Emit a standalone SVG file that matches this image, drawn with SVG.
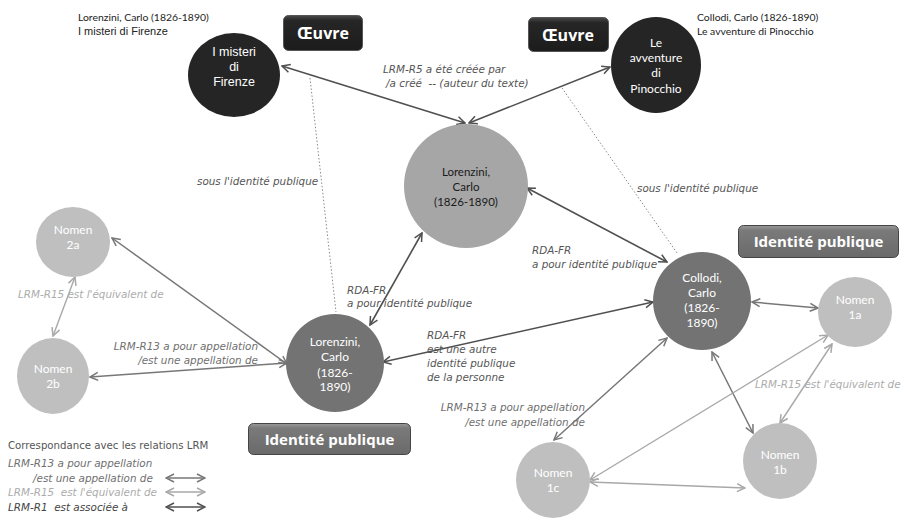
<svg xmlns="http://www.w3.org/2000/svg" width="901" height="525" viewBox="0 0 901 525">
  <defs>
    <style>
      .lbl { font-family: "DejaVu Sans", "Open Sans", sans-serif; font-style: italic; font-size: 10.4px; white-space: pre; }
      .dk { fill: #555555; }
      .md { fill: #6f6f6f; }
      .lt { fill: #acacac; }
      .node-w { font-family: Lato, "Open Sans", sans-serif; font-size: 12px; fill: #ffffff; text-anchor: middle; }
      .node-b { font-family: Lato, "Open Sans", sans-serif; font-size: 11.5px; fill: #1a1a1a; text-anchor: middle; }
      .arial-w { font-family: "Liberation Sans", Arial, sans-serif; font-size: 12.5px; fill: #ffffff; text-anchor: middle; }
      .cap { font-family: Lato, "Open Sans", sans-serif; font-size: 10.4px; fill: #222222; }
      .cap-a { font-family: "Liberation Sans", Arial, sans-serif; font-size: 11px; fill: #222222; }
      .btn { font-family: "Open Sans", "DejaVu Sans", sans-serif; font-weight: bold; fill: #ffffff; text-anchor: middle; }
      .c-dark { stroke: #505050; stroke-width: 1.6; fill: none; marker-start: url(#aDark); marker-end: url(#aDark); }
      .c-mid { stroke: #777777; stroke-width: 1.5; fill: none; marker-start: url(#aMid); marker-end: url(#aMid); }
      .c-light { stroke: #a8a8a8; stroke-width: 1.4; fill: none; marker-start: url(#aLight); marker-end: url(#aLight); }
      .c-dot { stroke: #8a8a8a; stroke-width: 1; stroke-dasharray: 1.5 2; fill: none; }
      .heading { font-family: "DejaVu Sans", "Open Sans", sans-serif; font-size: 10.2px; fill: #555555; }
    </style>
    <marker id="aDark" viewBox="0 0 10 10" refX="9" refY="5" markerWidth="10" markerHeight="10" markerUnits="userSpaceOnUse" orient="auto-start-reverse">
      <path d="M1,1 L9,5 L1,9" fill="none" stroke="#505050" stroke-width="1.5"/>
    </marker>
    <marker id="aMid" viewBox="0 0 10 10" refX="9" refY="5" markerWidth="10" markerHeight="10" markerUnits="userSpaceOnUse" orient="auto-start-reverse">
      <path d="M1,1 L9,5 L1,9" fill="none" stroke="#777777" stroke-width="1.5"/>
    </marker>
    <marker id="aLight" viewBox="0 0 10 10" refX="9" refY="5" markerWidth="10" markerHeight="10" markerUnits="userSpaceOnUse" orient="auto-start-reverse">
      <path d="M1,1 L9,5 L1,9" fill="none" stroke="#a8a8a8" stroke-width="1.5"/>
    </marker>
    <linearGradient id="gBlack" x1="0" y1="0" x2="0" y2="1">
      <stop offset="0" stop-color="#4a4a4a"/>
      <stop offset="0.15" stop-color="#262626"/>
      <stop offset="1" stop-color="#1c1c1c"/>
    </linearGradient>
    <linearGradient id="gGray" x1="0" y1="0" x2="0" y2="1">
      <stop offset="0" stop-color="#9a9a9a"/>
      <stop offset="0.15" stop-color="#7a7a7a"/>
      <stop offset="1" stop-color="#6a6a6a"/>
    </linearGradient>
  </defs>

  <rect width="901" height="525" fill="#ffffff"/>

  <!-- connectors -->
  <g id="connectors">
    <line class="c-dot" x1="310" y1="78" x2="336" y2="312"/>
    <line class="c-dot" x1="562" y1="88" x2="677" y2="253"/>
    <line class="c-dark" x1="282" y1="66" x2="465" y2="123"/>
    <line class="c-dark" x1="610" y1="67" x2="469" y2="123"/>
    <line class="c-dark" x1="527" y1="188" x2="667" y2="262"/>
    <line class="c-dark" x1="370" y1="325" x2="422" y2="233"/>
    <line class="c-dark" x1="383" y1="362" x2="653" y2="302"/>
    <line class="c-mid" x1="112" y1="238" x2="287" y2="364"/>
    <line class="c-mid" x1="90" y1="377" x2="287" y2="363"/>
    <line class="c-light" x1="75" y1="277" x2="53" y2="336"/>
    <line class="c-mid" x1="752" y1="302" x2="818" y2="308"/>
    <line class="c-mid" x1="712" y1="352" x2="753" y2="433"/>
    <line class="c-mid" x1="667" y1="338" x2="554" y2="440"/>
    <line class="c-light" x1="832" y1="344" x2="780" y2="423"/>
    <line class="c-light" x1="828" y1="335" x2="590" y2="480"/>
    <line class="c-light" x1="590" y1="482" x2="745" y2="488"/>
  </g>

  <!-- connector labels -->
  <g id="labels">
    <text class="lbl dk" x="383" y="73">LRM-R5 a été créée par</text>
    <text class="lbl dk" x="386" y="87">/a créé  -- (auteur du texte)</text>
    <text class="lbl dk" x="197" y="185">sous l'identité publique</text>
    <text class="lbl dk" x="637" y="192">sous l'identité publique</text>
    <text class="lbl dk" x="532" y="254">RDA-FR</text>
    <text class="lbl dk" x="532" y="268">a pour identité publique</text>
    <text class="lbl dk" x="347" y="294">RDA-FR</text>
    <text class="lbl dk" x="347" y="307">a pour identité publique</text>
    <text class="lbl dk" x="427" y="339">RDA-FR</text>
    <text class="lbl dk" x="427" y="353">est une autre</text>
    <text class="lbl dk" x="427" y="367">identité publique</text>
    <text class="lbl dk" x="427" y="381">de la personne</text>
    <text class="lbl md" x="258" y="350" text-anchor="end">LRM-R13 a pour appellation</text>
    <text class="lbl md" x="258" y="364" text-anchor="end">/est une appellation de</text>
    <text class="lbl lt" x="18" y="298">LRM-R15 est l'équivalent de</text>
    <text class="lbl lt" x="755" y="388">LRM-R15 est l'équivalent de</text>
    <text class="lbl md" x="585" y="411" text-anchor="end">LRM-R13 a pour appellation</text>
    <text class="lbl md" x="585" y="426" text-anchor="end">/est une appellation de</text>
  </g>

  <!-- works -->
  <g id="work-misteri">
    <ellipse cx="234" cy="75" rx="46" ry="42" fill="#252525"/>
    <text class="arial-w" x="234" y="56">I misteri</text>
    <text class="arial-w" x="234" y="71">di</text>
    <text class="arial-w" x="234" y="86">Firenze</text>
  </g>
  <g id="work-pinocchio">
    <ellipse cx="656" cy="65" rx="45" ry="48" fill="#252525"/>
    <text class="node-w" x="656" y="47">Le</text>
    <text class="node-w" x="656" y="62">avventure</text>
    <text class="node-w" x="656" y="77">di</text>
    <text class="node-w" x="656" y="93">Pinocchio</text>
  </g>

  <!-- captions -->
  <g id="caption-misteri">
    <text class="cap" x="78" y="21">Lorenzini, Carlo (1826-1890)</text>
    <text class="cap-a" x="78" y="35">I misteri di Firenze</text>
  </g>
  <g id="caption-pinocchio">
    <text class="cap" x="697" y="21">Collodi, Carlo (1826-1890)</text>
    <text class="cap" x="697" y="35">Le avventure di Pinocchio</text>
  </g>

  <!-- type badges -->
  <g id="badge-oeuvre-1">
    <rect x="283.5" y="15.5" width="79" height="35" rx="5" fill="url(#gBlack)" stroke="#555555" stroke-width="1"/>
    <text class="btn" x="323" y="39" font-size="16">Œuvre</text>
  </g>
  <g id="badge-oeuvre-2">
    <rect x="528.5" y="17.5" width="80" height="34" rx="5" fill="url(#gBlack)" stroke="#555555" stroke-width="1"/>
    <text class="btn" x="568" y="41" font-size="16">Œuvre</text>
  </g>
  <g id="badge-identite-1">
    <rect x="248.5" y="423.5" width="162" height="31" rx="5" fill="url(#gGray)" stroke="#444444" stroke-width="1"/>
    <text class="btn" x="329.5" y="445" font-size="15">Identité publique</text>
  </g>
  <g id="badge-identite-2">
    <rect x="738.5" y="225.5" width="160" height="32" rx="5" fill="url(#gGray)" stroke="#444444" stroke-width="1"/>
    <text class="btn" x="818.5" y="247" font-size="15">Identité publique</text>
  </g>

  <!-- persons / public identities -->
  <g id="person-lorenzini">
    <circle cx="466" cy="186" r="62" fill="#a6a6a6"/>
    <text class="node-b" x="466" y="176">Lorenzini,</text>
    <text class="node-b" x="466" y="191">Carlo</text>
    <text class="node-b" x="466" y="206">(1826-1890)</text>
  </g>
  <g id="identity-lorenzini">
    <circle cx="335" cy="363" r="49" fill="#737373"/>
    <text class="node-w" x="335" y="346">Lorenzini,</text>
    <text class="node-w" x="335" y="361">Carlo</text>
    <text class="node-w" x="335" y="377">(1826-</text>
    <text class="node-w" x="335" y="391">1890)</text>
  </g>
  <g id="identity-collodi">
    <circle cx="702" cy="301" r="49" fill="#737373"/>
    <text class="node-w" x="702" y="282">Collodi,</text>
    <text class="node-w" x="702" y="297">Carlo</text>
    <text class="node-w" x="702" y="312">(1826-</text>
    <text class="node-w" x="702" y="327">1890)</text>
  </g>

  <!-- nomens -->
  <g id="nomen-2a">
    <ellipse cx="73" cy="242" rx="37" ry="35" fill="#bfbfbf"/>
    <text class="node-w" x="73" y="234">Nomen</text>
    <text class="node-w" x="73" y="249">2a</text>
  </g>
  <g id="nomen-2b">
    <ellipse cx="53" cy="376" rx="36" ry="38" fill="#bfbfbf"/>
    <text class="node-w" x="53" y="373">Nomen</text>
    <text class="node-w" x="53" y="388">2b</text>
  </g>
  <g id="nomen-1a">
    <ellipse cx="855" cy="312" rx="37" ry="35" fill="#bfbfbf"/>
    <text class="node-w" x="855" y="304">Nomen</text>
    <text class="node-w" x="855" y="319">1a</text>
  </g>
  <g id="nomen-1b">
    <ellipse cx="780" cy="461" rx="37" ry="38" fill="#bfbfbf"/>
    <text class="node-w" x="780" y="459">Nomen</text>
    <text class="node-w" x="780" y="474">1b</text>
  </g>
  <g id="nomen-1c">
    <ellipse cx="553" cy="480" rx="37" ry="38" fill="#bfbfbf"/>
    <text class="node-w" x="553" y="477">Nomen</text>
    <text class="node-w" x="553" y="492">1c</text>
  </g>

  <!-- legend -->
  <g id="legend">
    <text class="heading" x="8" y="449">Correspondance avec les relations LRM</text>
    <text class="lbl md" x="8" y="467">LRM-R13 a pour appellation</text>
    <text class="lbl md" x="33" y="482">/est une appellation de</text>
    <text class="lbl lt" x="8" y="496">LRM-R15  est l'équivalent de</text>
    <text class="lbl" x="8" y="511" fill="#444444">LRM-R1  est associée à</text>
    <line class="c-mid" x1="166" y1="478" x2="205" y2="478"/>
    <line class="c-light" x1="166" y1="492" x2="205" y2="492"/>
    <line class="c-dark" x1="166" y1="507" x2="205" y2="507"/>
  </g>
</svg>
